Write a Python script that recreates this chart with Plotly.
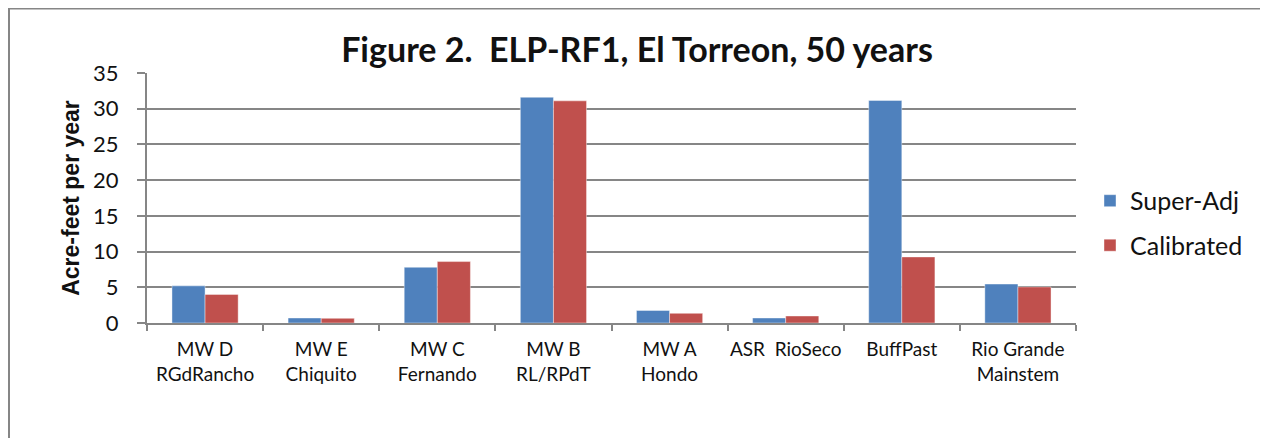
import plotly.graph_objects as go

categories = ["MW D<br>RGdRancho", "MW E<br>Chiquito", "MW C<br>Fernando", "MW B<br>RL/RPdT",
              "MW A<br>Hondo", "ASR  RioSeco", "BuffPast", "Rio Grande<br>Mainstem"]
super_adj = [5.2, 0.7, 7.8, 31.6, 1.75, 0.7, 31.15, 5.45]
calibrated = [4.0, 0.65, 8.6, 31.1, 1.35, 0.98, 9.25, 5.05]
series_names = ["Super-Adj", "Calibrated"]
colors = ["#4F81BD", "#C0504D"]
y_ticks = [0, 5, 10, 15, 20, 25, 30, 35]

# figure is placed at (8, 8) in the page by the default body margin
W, H = 1260, 430
L, R, T, B = 139, 1068, 65.3, 314.7

fig = go.Figure()
for i, (name, vals) in enumerate(zip(series_names, [super_adj, calibrated])):
    fig.add_trace(go.Bar(
        x=categories, y=vals, name=name,
        marker=dict(color=colors[i], line=dict(color="rgba(255,255,255,0.5)", width=0.8)),
        legendgroup=name,
    ))

pw, ph = R - L, B - T
def px2x(p): return (p - L) / pw
def px2y(p): return (B - p) / ph

fig.update_layout(
    width=W, height=H,
    margin=dict(l=L, r=W - R, t=T, b=H - B, autoexpand=False),
    paper_bgcolor="white", plot_bgcolor="white",
    barmode="group", bargap=0.43, bargroupgap=0,
    font=dict(family="Lato, Open Sans, sans-serif", color="#000"),
    title=dict(text="<b>Figure 2.  ELP-RF1, El Torreon, 50 years</b>",
               x=629 / W, xref="container", xanchor="center",
               y=1 - 42 / H, yanchor="middle",
               font=dict(size=34, family="Lato, sans-serif", color="#111")),
    showlegend=True,
    legend=dict(x=px2x(1082), xanchor="left", y=px2y(170), yanchor="top",
                font=dict(size=25, family="Lato, sans-serif", color="#111"),
                tracegroupgap=9, traceorder="grouped",
                bgcolor="rgba(0,0,0,0)"),
    xaxis=dict(showgrid=False, showline=True, linecolor="#868686", linewidth=2,
               ticks="outside", tickson="boundaries", ticklen=6, tickcolor="#868686",
               tickwidth=1.5, tickangle=0,
               tickfont=dict(size=19, family="Lato, sans-serif", color="#111"),
               ticklabelstandoff=8),
    yaxis=dict(range=[0, 35], tickvals=y_ticks, showgrid=True, gridcolor="#868686",
               gridwidth=2, showline=True, linecolor="#868686", linewidth=2,
               ticks="outside", ticklen=8, tickcolor="#868686", tickwidth=2,
               zeroline=False, ticklabelstandoff=14,
               tickfont=dict(size=22, family="Lato, sans-serif", color="#111"),
               title=dict(text="<b>Acre-feet per year</b>", standoff=7,
                          font=dict(size=23, family="Liberation Sans, Arial, sans-serif", color="#111"))),
    shapes=[dict(type="rect", xref="paper", yref="paper",
                 x0=px2x(1), x1=px2x(1258.5), y0=px2y(460), y1=px2y(1),
                 line=dict(color="#868686", width=2), fillcolor="rgba(0,0,0,0)", layer="below")],
)

fig.write_html("out.html")
